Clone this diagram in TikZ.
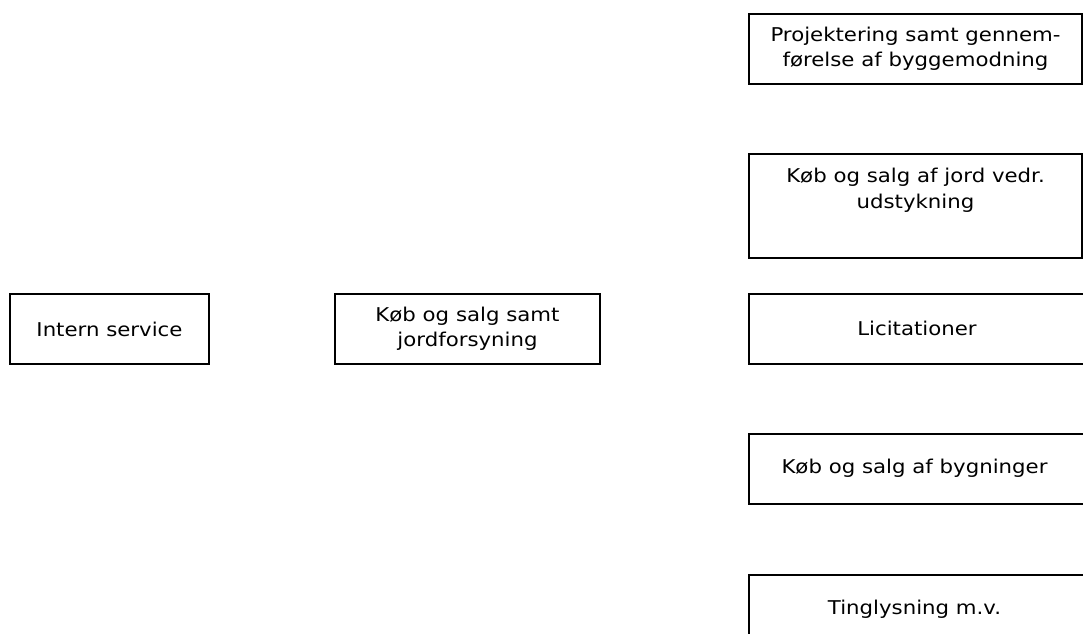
\documentclass[tikz,border=0pt]{standalone}
\usepackage{fontspec}
\setmainfont[FakeStretch=1.12]{DejaVu Sans}
\begin{document}
\begin{tikzpicture}[x=1pt,y=1pt,
  unitbox/.style={draw=black, line width=2pt, rectangle, inner sep=0pt, anchor=north west},
  unittext/.style={align=center, font=\fontsize{19}{25.5}\selectfont, inner sep=0pt}]
\clip (0,0) rectangle (1083,633);
% left and middle units
\node[unitbox, minimum width=199pt, minimum height=70pt] (intern) at (9,340) {};
\node[unittext] (interntxt) at (intern.center) {Intern service};
\node[unitbox, minimum width=265pt, minimum height=70pt] (koeb) at (334,340) {};
\node[unittext] (koebtxt) at (koeb.center) {Køb og salg samt\\jordforsyning};
% right column
\node[unitbox, minimum width=333pt, minimum height=70pt] (proj) at (748,620) {};
\node[unittext] (projtxt) at (proj.center) {Projektering samt gennem-\\førelse af byggemodning};
\node[unitbox, minimum width=333pt, minimum height=104pt] (jord) at (748,480) {};
\node[unittext, anchor=north] (jordtxt) at ([yshift=-15pt]jord.north) {Køb og salg af jord vedr.\\udstykning};
\node[unitbox, minimum width=345pt, minimum height=70pt] (licit) at (748,340) {};
\node[unittext] (licittxt) at (917,305) {Licitationer};
\node[unitbox, minimum width=345pt, minimum height=70pt] (bygn) at (748,200) {};
\node[unittext] (bygntxt) at (914.5,165) {Køb og salg af bygninger};
\node[unitbox, minimum width=345pt, minimum height=70pt] (tingl) at (748,59) {};
\node[unittext] (tingltxt) at (914.5,24) {Tinglysning m.v.};
\end{tikzpicture}
\end{document}
